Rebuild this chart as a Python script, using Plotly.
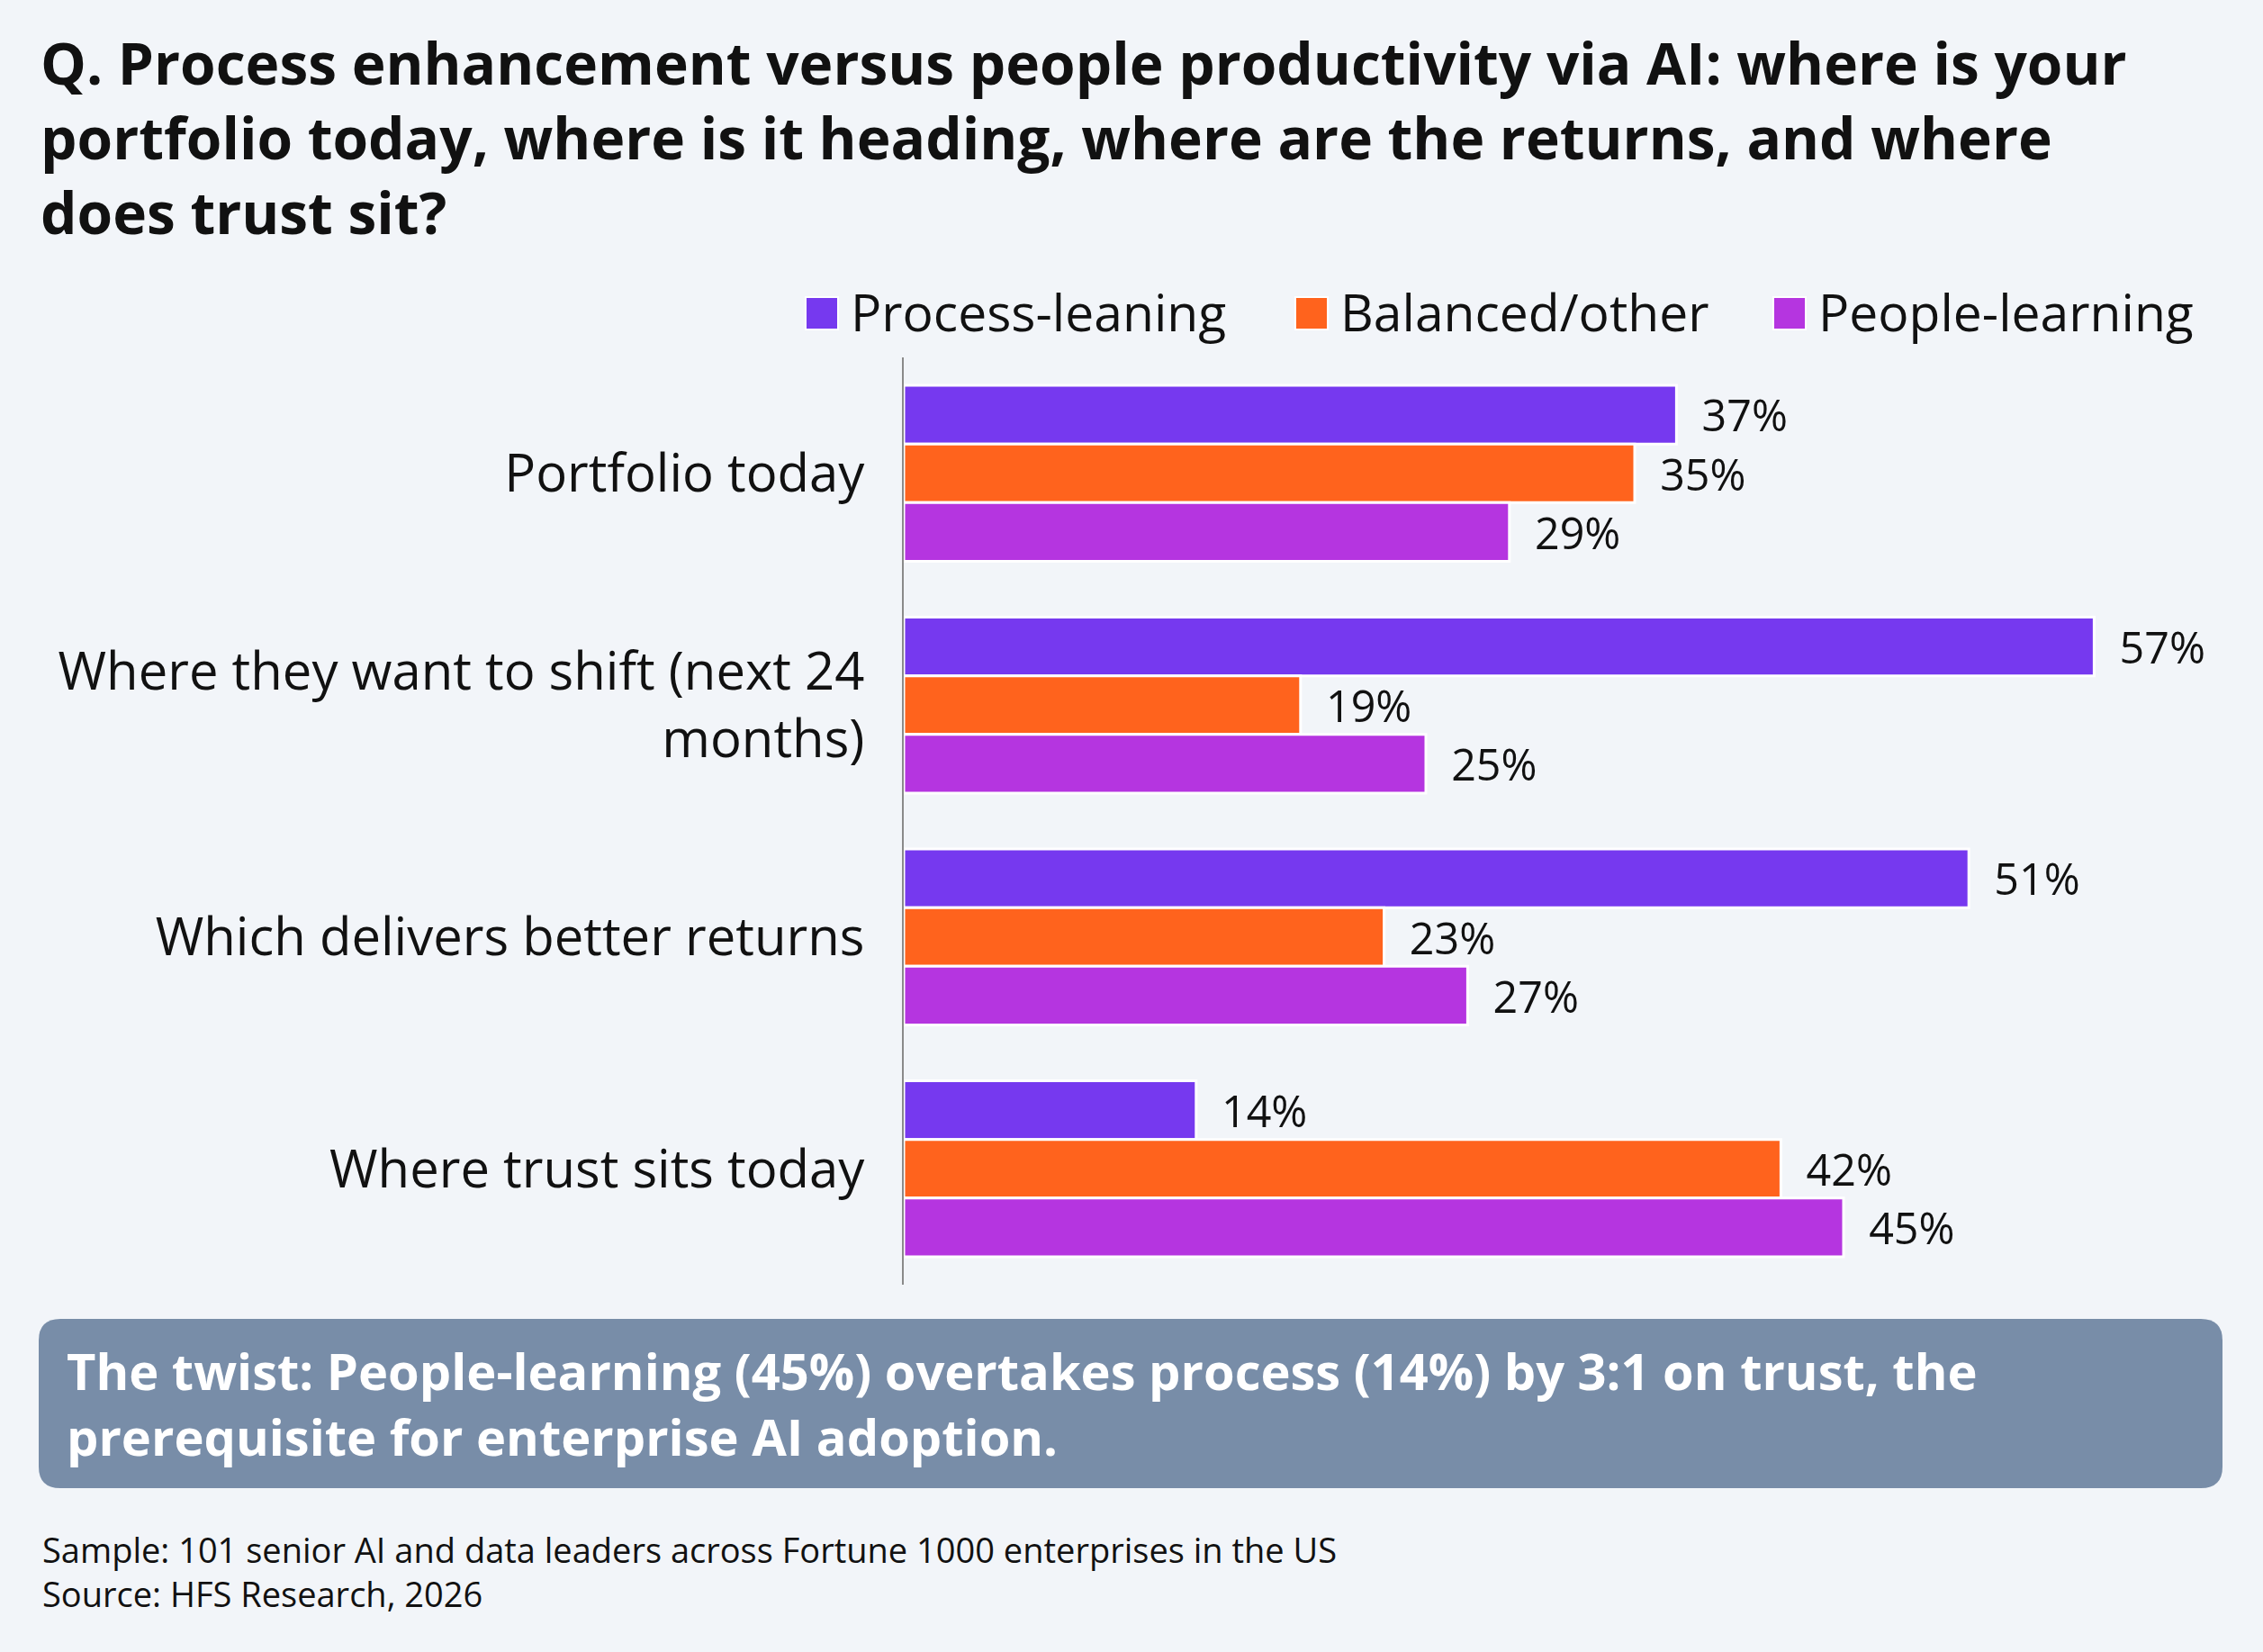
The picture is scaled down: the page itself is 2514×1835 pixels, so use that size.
import plotly.graph_objects as go

# ---- data ----
categories = ["Portfolio today",
              "Where they want to shift (next 24<br>months)",
              "Which delivers better returns",
              "Where trust sits today"]
series_names = ["Process-leaning", "Balanced/other", "People-learning"]
process_leaning = [37, 57, 51, 14]
balanced_other = [35, 19, 23, 42]
people_learning = [29, 25, 27, 45]
series_values = [process_leaning, balanced_other, people_learning]
colors = ["#7639EF", "#FF631D", "#B535E0"]

title_text = ("Q. Process enhancement versus people productivity via AI: where is your<br>"
              "portfolio today, where is it heading, where are the returns, and where<br>"
              "does trust sit?")
callout_text = ("The twist: People-learning (45%) overtakes process (14%) by 3:1 on trust, the<br>"
                "prerequisite for enterprise AI adoption.")
footer_text = ("Sample: 101 senior AI and data leaders across Fortune 1000 enterprises in the US<br>"
               "Source: HFS Research, 2026")

FONT = "Open Sans"
BG = "#F2F5F9"
W, H = 2514, 1835
L, R, T, B = 1004, 34, 397, 408
PW, PH = W - L - R, H - T - B


def px_x(x):
    return (x - L) / PW


def px_y(y):
    return (H - B - y) / PH


fig = go.Figure()
for name, vals, col in zip(series_names, series_values, colors):
    fig.add_trace(go.Bar(
        y=categories, x=vals, name=name, orientation="h",
        marker=dict(color=col, line=dict(color="white", width=3)),
        texttemplate="\u00a0\u00a0%{x}%", textposition="outside",
        textfont=dict(family=FONT, size=49, color="#111111"),
        cliponaxis=False, showlegend=False,
    ))

# custom legend (large square swatches)
leg_sq = [(895, 931), (1439, 1475), (1970, 2006)]
leg_y0, leg_y1 = 330, 366
for (x0, x1), name, col in zip(leg_sq, series_names, colors):
    fig.add_shape(type="rect", xref="paper", yref="paper",
                  x0=px_x(x0), x1=px_x(x1), y0=px_y(leg_y1), y1=px_y(leg_y0),
                  fillcolor=col, line=dict(color="white", width=2))
    fig.add_annotation(xref="paper", yref="paper", x=px_x(x1 + 12), y=px_y(346),
                       text=name, showarrow=False, xanchor="left", yanchor="middle",
                       font=dict(family=FONT, size=57, color="#111111"))

# callout box with rounded corners
bx0, bx1, by0, by1, rad = 43, 2469, 1465, 1653, 24
X = lambda v: px_x(v)
Y = lambda v: px_y(v)
path = (f"M {X(bx0+rad)},{Y(by0)} L {X(bx1-rad)},{Y(by0)} "
        f"Q {X(bx1)},{Y(by0)} {X(bx1)},{Y(by0+rad)} L {X(bx1)},{Y(by1-rad)} "
        f"Q {X(bx1)},{Y(by1)} {X(bx1-rad)},{Y(by1)} L {X(bx0+rad)},{Y(by1)} "
        f"Q {X(bx0)},{Y(by1)} {X(bx0)},{Y(by1-rad)} L {X(bx0)},{Y(by0+rad)} "
        f"Q {X(bx0)},{Y(by0)} {X(bx0+rad)},{Y(by0)} Z")
fig.add_shape(type="path", path=path, xref="paper", yref="paper",
              fillcolor="#788DA8", line=dict(width=0))
fig.add_annotation(xref="paper", yref="paper", x=px_x(72), y=px_y(1558),
                   text=f"<b>{callout_text}</b>", showarrow=False,
                   xanchor="left", yanchor="middle", align="left",
                   font=dict(family=FONT, size=56, color="white"))

# footer
fig.add_annotation(xref="paper", yref="paper", x=px_x(45), y=px_y(1745),
                   text=footer_text, showarrow=False, xanchor="left", yanchor="middle",
                   align="left", font=dict(family=FONT, size=38, color="#111111"))

fig.update_layout(
    width=W, height=H,
    margin=dict(l=L, r=R, t=T, b=B, autoexpand=False),
    paper_bgcolor=BG, plot_bgcolor=BG,
    barmode="group", bargap=0.24, bargroupgap=0,
    title=dict(text=f"<b>{title_text}</b>", x=45 / W, xanchor="left",
               xref="container", yref="container", y=1 - 94 / H, yanchor="middle",
               font=dict(family=FONT, size=64, color="#111111")),
    font=dict(family=FONT, color="#111111"),
)
fig.update_xaxes(range=[0, PW / 23.2], showgrid=False, zeroline=False,
                 showticklabels=False, ticks="", showline=False, fixedrange=True)
fig.update_yaxes(autorange="reversed", showgrid=False, zeroline=False,
                 showline=True, linecolor="#8A8A8A", linewidth=2, ticks="",
                 ticklabelstandoff=30,
                 tickfont=dict(family=FONT, size=58, color="#111111"))

fig.write_html("out.html")
